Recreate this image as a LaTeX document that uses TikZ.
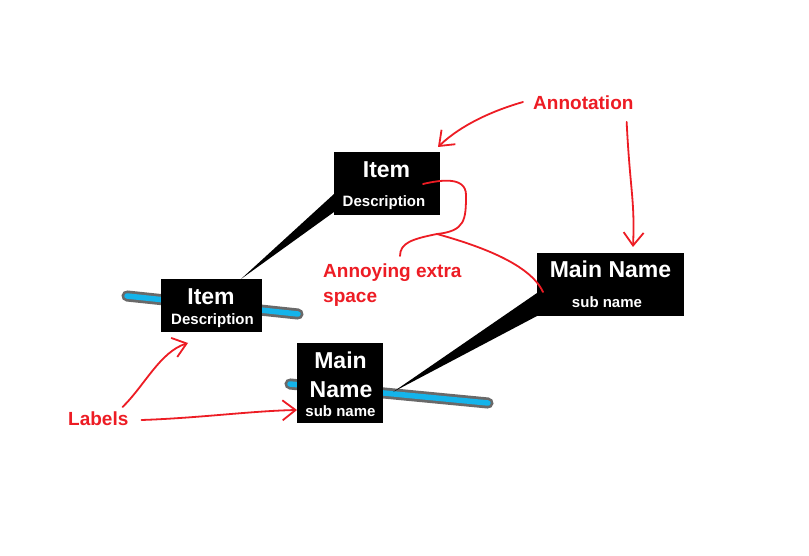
\documentclass[tikz,border=0pt]{standalone}
\usepackage{fontspec}
\setmainfont{Liberation Sans}
\usetikzlibrary{calc,arrows.meta}
\definecolor{annored}{RGB}{237,28,36}
\definecolor{barblue}{RGB}{20,180,235}
\definecolor{bargray}{RGB}{105,105,105}
\begin{document}
\begin{tikzpicture}[x=1pt, y=-1pt, every node/.style={font=\bfseries}]
  \tikzstyle{blk}=[fill=black,inner sep=0pt,outer sep=0pt]
  \tikzstyle{big}=[text=white,inner sep=0pt,anchor=base,font=\fontsize{23}{27}\selectfont\bfseries]
  \tikzstyle{small}=[text=white,inner sep=0pt,anchor=base,font=\fontsize{15}{18}\selectfont\bfseries]
  \tikzstyle{note}=[text=annored,inner sep=0pt,anchor=base west,align=left,font=\fontsize{19}{24.5}\selectfont\bfseries]
  \tikzstyle{bar}=[draw=bargray,double=barblue,double distance=5.5pt,line width=2.8pt,line cap=round]
  \tikzstyle{scribble}=[draw=annored,line width=1.8pt,line cap=round,line join=round]
  \tikzstyle{pointer}=[scribble,-{Straight Barb[length=13pt,width=20pt]}]
  \fill[white] (0,0) rectangle (809,556);
  \useasboundingbox (0,0) rectangle (809,556);
  \draw[bar] (127,296) -- (298,314);
  \draw[bar] (290,384) -- (488,403);
  \node[blk,minimum width=101,minimum height=53] (itemA) at (211.5,305.5) {};
  \node[blk,minimum width=106,minimum height=63] (itemB) at (387,183.5) {};
  \node[blk,minimum width=147,minimum height=63] (mainC) at (610.5,284.5) {};
  \node[blk,minimum width=86,minimum height=80] (mainD) at (340,383) {};
  \fill ($(itemA.north east)+(-21,0)$) -- ($(itemB.south west)+(0,-21)$) -- ($(itemB.south west)+(0,-3)$) -- cycle;
  \fill ($(mainD.east)+(10,9)$) -- ($(mainC.south west)+(0,-23)$) -- (mainC.south west) -- cycle;
  \node[big] (itemAname) at (211,305) {Item};
  \node[small] (itemAdesc) at (212.5,324) {Description};
  \node[big] (itemBname) at (386.5,178) {Item};
  \node[small] (itemBdesc) at (384,207) {Description};
  \node[big] (mainCname) at (610.5,277) {Main Name};
  \node[small] (mainCsub) at (607,308) {sub name};
  \node[big] (mainDtop) at (340.5,368) {Main};
  \node[big] (mainDname) at (341,397) {Name};
  \node[small] (mainDsub) at (340.5,416) {sub name};
  \node[note] (annot) at (533,110) {Annotation};
  \node[note,anchor=north west] (annoy) at (323,264) {Annoying extra\\space};
  \node[note] (labels) at (68,425) {Labels};
  \coordinate (knot) at (437,234);
  \draw[pointer] ($(annot.base west)+(-10,-8)$) .. controls (495,110) and (462,124) .. ($(itemB.north east)+(-2,-5)$);
  \draw[pointer] ($(annot.base east)+(-7,12)$) .. controls (630,190) and (635,200) .. ($(mainC.north)+(22.5,-6)$);
  \draw[scribble] ($(itemB.east)+(-17,0.5)$) .. controls (440,180) and (466,176) .. (466,195) .. controls (466,220) and (465,231) .. (knot);
  \draw[scribble] (knot) .. controls (412,239) and (400,243) .. ($(annoy.north west)+(77,-8)$);
  \draw[scribble] (knot) .. controls (480,246) and (530,264) .. ($(mainC.west)+(6,7.5)$);
  \draw[pointer] ($(labels.base east)+(-6,-18)$) .. controls (145,385) and (160,352) .. ($(itemA.south)+(-23.5,11)$);
  \draw[pointer] ($(labels.base east)+(13,-5)$) .. controls (200,418) and (250,411) .. ($(mainD.south west)+(0,-13)$);
\end{tikzpicture}
\end{document}
